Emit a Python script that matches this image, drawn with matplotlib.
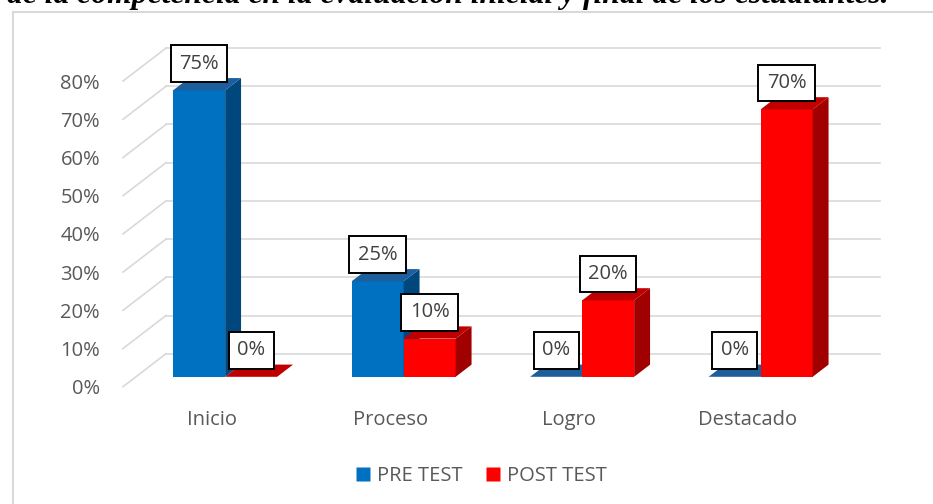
import matplotlib
matplotlib.use("Agg")
import matplotlib.pyplot as plt
from matplotlib.patches import Polygon, Rectangle
from matplotlib.lines import Line2D

categories = ["Inicio", "Proceso", "Logro", "Destacado"]
pre_test = [75, 25, 0, 0]
post_test = [0, 10, 20, 70]
series_names = ["PRE TEST", "POST TEST"]
y_ticks = [0, 10, 20, 30, 40, 50, 60, 70, 80]
title = "de la competencia en la evaluación inicial y final de los estudiantes."

W, H = 933, 504
fig = plt.figure(figsize=(W / 100, H / 100), dpi=100)

# pixel geometry of the plot (front floor plane)
px_left, px_right = 123, 880
px_bottom, px_top = 386.7, 40
px_per_cat, px_per_pct = 178.5, 3.82

ax = fig.add_axes([px_left / W, (H - px_bottom) / H,
                   (px_right - px_left) / W, (px_bottom - px_top) / H])
ax.set_xlim(-0.5, -0.5 + (px_right - px_left) / px_per_cat)
ax.set_ylim(0, (px_bottom - px_top) / px_per_pct)

# depth vector of the 3-D box, in data units
DX, DY = 43 / px_per_cat, 33 / px_per_pct
grid_c = "#D9D9D9"
for v in y_ticks:
    ax.plot([-0.5, -0.5 + DX], [v, v + DY], color=grid_c, lw=1.2, clip_on=False, zorder=1)
    ax.plot([-0.5 + DX, len(categories) - 0.5 + DX], [v + DY, v + DY],
            color=grid_c, lw=1.2, clip_on=False, zorder=1)

bar_w = 52 / px_per_cat
off_x, off_y = 0.3 * DX, 0.3 * DY
dd_x, dd_y = 0.37 * DX, 0.37 * DY
colors = {
    "PRE TEST": ("#0070C0", "#00477E", "#1C5F9C"),
    "POST TEST": ("#FF0000", "#A00000", "#C00000"),
}


def bar3d(x0, h, front, side, top):
    x1 = x0 + bar_w
    b = off_y
    t = b + h
    ax.add_patch(Rectangle((x0, b), bar_w, h, fc=front, ec="none", zorder=3, clip_on=False))
    ax.add_patch(Polygon([(x1, b), (x1, t), (x1 + dd_x, t + dd_y), (x1 + dd_x, b + dd_y)],
                         closed=True, fc=side, ec="none", zorder=3, clip_on=False))
    ax.add_patch(Polygon([(x0, t), (x1, t), (x1 + dd_x, t + dd_y), (x0 + dd_x, t + dd_y)],
                         closed=True, fc=top, ec="none", zorder=3, clip_on=False))


for i in range(len(categories)):
    for k, (name, vals) in enumerate(zip(series_names, [pre_test, post_test])):
        x0 = i + off_x - bar_w + k * bar_w
        bar3d(x0, vals[i], *colors[name])

fs = 14.5
for i in range(len(categories)):
    for k, vals in enumerate([pre_test, post_test]):
        xc = i + off_x - bar_w / 2 + k * bar_w
        ax.annotate(f"{vals[i]}%", (xc, off_y + vals[i]), xytext=(0, 19),
                    textcoords="offset points", ha="center", va="center",
                    fontsize=fs, color="#404040", family="Open Sans", zorder=5,
                    bbox=dict(boxstyle="square,pad=0.42", fc="white", ec="black", lw=1.4))

ax.set_yticks(y_ticks)
ax.set_yticklabels([f"{v}%" for v in y_ticks])
ax.set_xticks(range(len(categories)))
ax.set_xticklabels(categories)
ax.tick_params(axis="y", length=0, pad=16.5, labelsize=fs, labelcolor="#595959")
ax.tick_params(axis="x", length=0, pad=16.5, labelsize=fs, labelcolor="#595959")
for lab in ax.get_xticklabels() + ax.get_yticklabels():
    lab.set_family("Open Sans")
for s in ax.spines.values():
    s.set_visible(False)
ax.patch.set_visible(False)

handles = [Line2D([], [], ls="none", marker="s", ms=10, mec="none", mfc=colors[n][0])
           for n in series_names]
fig.legend(handles, series_names, loc="center", bbox_to_anchor=(481 / W, 1 - 476 / H),
           ncol=2, frameon=False, handlelength=0.8, handletextpad=0.3, columnspacing=1.1,
           prop={"family": "Open Sans", "size": fs}, labelcolor="#595959")

# chart border (only top and left edges are inside the picture)
fig.add_artist(Line2D([13 / W, 1], [1 - 12 / H] * 2, color=grid_c, lw=1.5))
fig.add_artist(Line2D([13 / W] * 2, [1 - 12 / H, 0], color=grid_c, lw=1.5))

# caption line above the chart, cropped at the top as in the source picture
fig.text(7 / W, 1 - 3.5 / H, title, fontsize=22.8, fontweight="bold", fontstyle="italic",
         family="Liberation Serif", va="baseline", ha="left")

fig.savefig("out.png", dpi=100)
